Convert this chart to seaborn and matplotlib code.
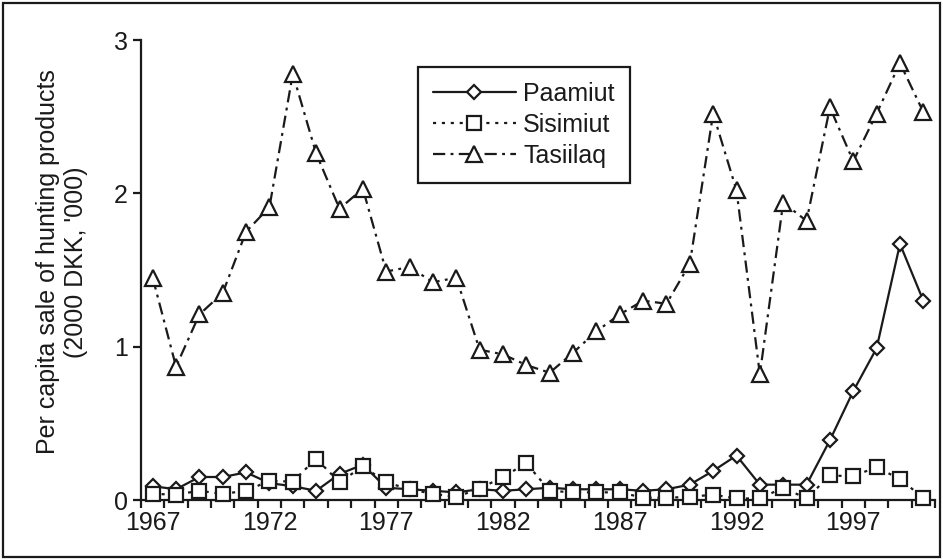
import matplotlib
matplotlib.use("Agg")
import matplotlib.pyplot as plt
from matplotlib.patches import Rectangle
from matplotlib.ticker import FixedLocator
import seaborn as sns
import pandas as pd

years = list(range(1967, 2001))
paamiut = [0.09, 0.07, 0.15, 0.15, 0.18, 0.11, 0.09, 0.06, 0.17, 0.23,
           0.08, 0.07, 0.06, 0.05, 0.07, 0.06, 0.07, 0.08, 0.07, 0.07,
           0.07, 0.06, 0.07, 0.10, 0.19, 0.29, 0.10, 0.10, 0.10, 0.39,
           0.71, 0.99, 1.67, 1.30]
sisimiut = [0.04, 0.035, 0.06, 0.04, 0.06, 0.125, 0.12, 0.27, 0.115, 0.22,
            0.115, 0.07, 0.04, 0.02, 0.075, 0.15, 0.24, 0.06, 0.05, 0.05,
            0.05, 0.015, 0.015, 0.02, 0.035, 0.01, 0.01, 0.08, 0.01, 0.16,
            0.155, 0.215, 0.135, 0.015]
tasiilaq = [1.45, 0.87, 1.21, 1.35, 1.75, 1.91, 2.78, 2.26, 1.90, 2.03,
            1.49, 1.52, 1.42, 1.45, 0.98, 0.95, 0.88, 0.83, 0.96, 1.10,
            1.21, 1.30, 1.28, 1.54, 2.52, 2.02, 0.82, 1.94, 1.82, 2.56,
            2.21, 2.52, 2.85, 2.53]
labelled_years = [1967, 1972, 1977, 1982, 1987, 1992, 1997]
y_ticks = [0, 1, 2, 3]

sns.set_style("ticks")
plt.rcParams['font.family'] = ['Liberation Sans', 'DejaVu Sans']

fig = plt.figure(figsize=(9.43, 5.6), dpi=100)
ax = fig.add_axes([141 / 943, 60 / 560, 794 / 943, 460 / 560])

df = pd.DataFrame({"year": years, "Paamiut": paamiut,
                   "Sisimiut": sisimiut, "Tasiilaq": tasiilaq})

common = dict(color="#1a1a1a", lw=1.6, markerfacecolor="white",
              markeredgecolor="#1a1a1a", markeredgewidth=1.6,
              clip_on=False, ax=ax)

sns.lineplot(data=df, x="year", y="Paamiut", marker="D", markersize=7.5,
             linestyle="-", label="Paamiut", zorder=3, **common)
sns.lineplot(data=df, x="year", y="Sisimiut", marker="s", markersize=10,
             linestyle=(0, (1.4, 2.6)), label="Sisimiut", zorder=4, **common)
sns.lineplot(data=df, x="year", y="Tasiilaq", marker="^", markersize=11,
             linestyle=(0, (5.5, 2.4, 1.3, 2.4)), label="Tasiilaq", zorder=5,
             **common)

ax.set_xlim(1966.5, 2000.5)
ax.set_ylim(0, 3)
ax.set_yticks(y_ticks)
ax.set_yticklabels([str(v) for v in y_ticks])
ax.set_xticks(labelled_years)
ax.set_xticklabels([str(y) for y in labelled_years])
ax.xaxis.set_minor_locator(FixedLocator([y - 0.5 for y in years] + [2000.5]))
ax.tick_params(axis="x", which="major", length=0, pad=8, labelsize=18,
               colors="#1a1a1a")
ax.tick_params(axis="x", which="minor", length=6, width=1.6,
               direction="out", color="#1a1a1a")
ax.tick_params(axis="y", which="major", length=6, width=1.6, pad=3.5,
               labelsize=18, direction="out", colors="#1a1a1a")

for s in ["top", "right"]:
    ax.spines[s].set_visible(False)
for s in ["left", "bottom"]:
    ax.spines[s].set_linewidth(1.6)
    ax.spines[s].set_color("#1a1a1a")
ax.set_xlabel("")
ax.set_ylabel("")

fig.text(62 / 943, 1 - 262 / 560,
         "Per capita sale of hunting products\n(2000 DKK, '000)",
         rotation=90, ha="center", va="center", multialignment="center",
         fontsize=18, linespacing=1.25, color="#1a1a1a")

leg = ax.legend(loc="upper left", bbox_to_anchor=(418 / 943, 1 - 67 / 560),
                bbox_transform=fig.transFigure, fontsize=18, frameon=True,
                fancybox=False, framealpha=1, handlelength=3.3,
                handletextpad=0.3, labelspacing=0.28, borderpad=0.6,
                borderaxespad=0)
leg.get_frame().set_edgecolor("#1a1a1a")
leg.get_frame().set_linewidth(1.6)
for t in leg.get_texts():
    t.set_color("#1a1a1a")

fig.patches.append(Rectangle((3 / 943, 3 / 560), 937 / 943, 554 / 560,
                             transform=fig.transFigure, fill=False,
                             edgecolor="#1a1a1a", linewidth=1.6))

fig.savefig("out.png", dpi=100)
